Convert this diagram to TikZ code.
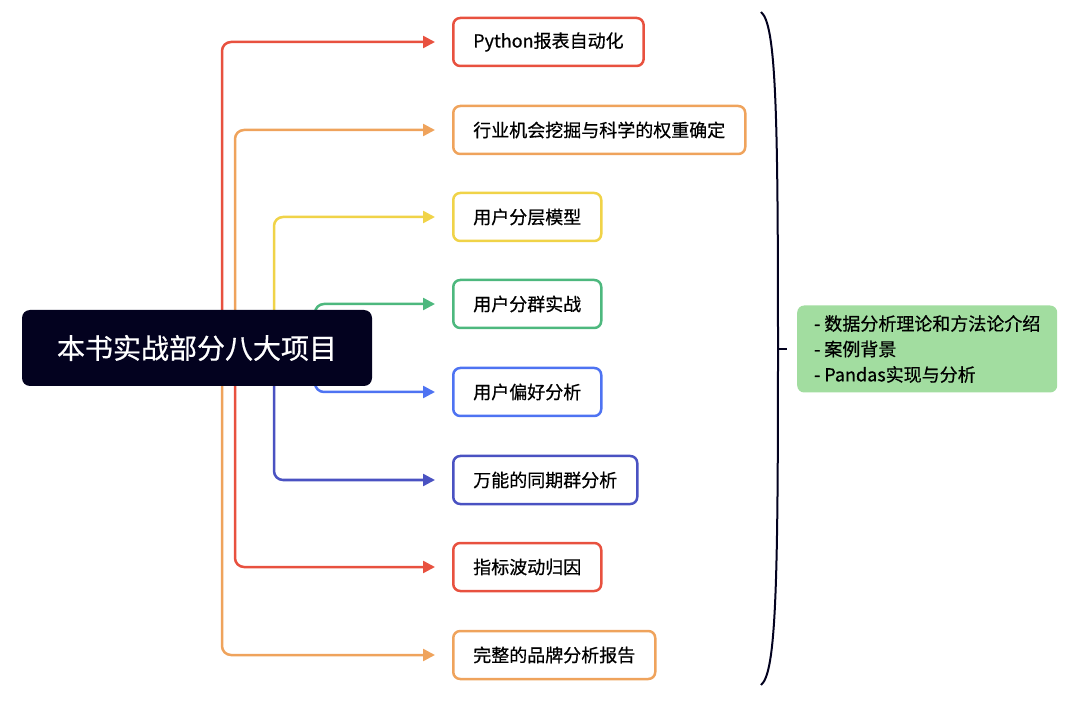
\documentclass[tikz,border=0pt]{standalone}
\usepackage{fontspec}
\setmainfont{Noto Sans CJK SC}
\newfontfamily\medfont[FakeBold=0.6]{Noto Sans CJK SC}
\usetikzlibrary{arrows.meta, positioning, backgrounds}

\definecolor{mmred}{HTML}{E8513F}
\definecolor{mmorange}{HTML}{EFA35C}
\definecolor{mmyellow}{HTML}{F0D348}
\definecolor{mmgreen}{HTML}{4DB87E}
\definecolor{mmblue}{HTML}{4E73F2}
\definecolor{mmindigo}{HTML}{4A52C2}
\definecolor{mmnavy}{HTML}{03021F}
\definecolor{mmnote}{HTML}{A2DDA0}

\begin{document}
\begin{tikzpicture}[
    x=1pt, y=-1pt,
    topic/.style={
        rectangle,
        draw,
        line width=2.5pt,
        rounded corners=7pt,
        minimum height=48pt,
        inner xsep=20pt,
        anchor=west,
        font=\medfont\fontsize{18pt}{21pt}\selectfont
    },
    hubbox/.style={
        rectangle,
        fill=mmnavy,
        rounded corners=8pt,
        minimum width=350pt,
        minimum height=76pt,
        text=white,
        font=\medfont\fontsize{28pt}{32pt}\selectfont
    },
    notebox/.style={
        rectangle,
        fill=mmnote,
        rounded corners=7pt,
        minimum width=260pt,
        minimum height=87pt,
        inner xsep=11pt,
        align=left,
        font=\medfont\fontsize{18pt}{25.5pt}\selectfont
    },
    branch/.style={
        line width=2.5pt,
        rounded corners=9pt,
        -{Triangle[length=12pt,width=12pt]},
        shorten >=17pt
    }
]

\useasboundingbox (0,0) rectangle (1080,703);

\node[hubbox] (hub) at (197,348) {本书实战部分八大项目};

\node[topic, draw=mmred] (report) at (452,42) {Python报表自动化};
\node[topic, draw=mmorange] (weight) at (452,130) {行业机会挖掘与科学的权重确定};
\node[topic, draw=mmyellow] (layer) at (452,217) {用户分层模型};
\node[topic, draw=mmgreen] (cluster) at (452,304) {用户分群实战};
\node[topic, draw=mmblue] (prefer) at (452,392) {用户偏好分析};
\node[topic, draw=mmindigo] (cohort) at (452,480) {万能的同期群分析};
\node[topic, draw=mmred] (metric) at (452,567) {指标波动归因};
\node[topic, draw=mmorange] (brand) at (452,655) {完整的品牌分析报告};

% lanes of the branches
\coordinate (lanea) at (222,0);
\coordinate (laneb) at (235,0);
\coordinate (lanec) at (274,0);
\coordinate (laned) at (315,0);

\begin{scope}[on background layer]
\draw[branch, mmred] (hub -| lanea) |- (report.west);
\draw[branch, mmorange] (hub -| laneb) |- (weight.west);
\draw[branch, mmyellow] (hub -| lanec) |- (layer.west);
\draw[branch, mmgreen] (hub -| laned) |- (cluster.west);
\draw[branch, mmblue] (hub -| laned) |- (prefer.west);
\draw[branch, mmindigo] (hub -| lanec) |- (cohort.west);
\draw[branch, mmred] (hub -| laneb) |- (metric.west);
\draw[branch, mmorange] (hub -| lanea) |- (brand.west);
\end{scope}

% summary bracket
\coordinate (bracetop) at (761,12);
\coordinate (bracetip) at (778,349);
\coordinate (bracebot) at (761,685);
\draw[mmnavy, line width=2pt]
    (bracetop) .. controls (776,24) and (778,110) .. (bracetip)
    .. controls (778,588) and (776,673) .. (bracebot);

\node[notebox, right=19pt of bracetip, anchor=west] (note)
    {- 数据分析理论和方法论介绍\\- 案例背景\\- Pandas实现与分析};

\draw[mmnavy, line width=2pt, shorten >=10pt] (bracetip) -- (note.west);

\end{tikzpicture}
\end{document}
